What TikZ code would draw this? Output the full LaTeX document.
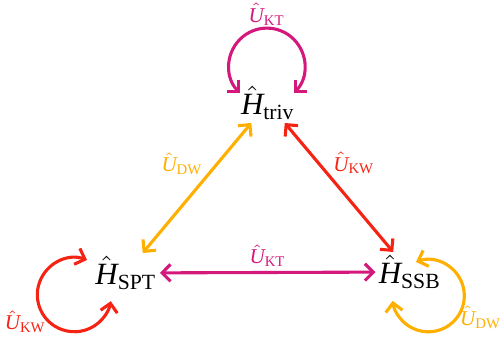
\documentclass[tikz,border=0pt]{standalone}
\usepackage{amsmath}
\usepackage{fontspec}
\setmainfont{Liberation Serif}
\definecolor{ktmag}{RGB}{212, 25, 125}
\definecolor{kwred}{RGB}{245, 35, 20}
\definecolor{dworange}{RGB}{255, 175, 0}
\usetikzlibrary{arrows.meta}
\newcommand{\hamop}[1]{$\hat{\text{\itshape H}}_{\text{#1}}$}
\newcommand{\unop}[1]{$\hat{\text{\itshape U}}_{\text{#1}}$}

\begin{document}
\begin{tikzpicture}[
        x=0.0125cm, y=0.0125cm,
        ham/.style={inner sep=1pt, font=\fontsize{11}{13}\selectfont},
        lbl/.style={inner sep=0.5pt, font=\fontsize{7.5}{9}\selectfont},
        link/.style={{Straight Barb[length=3pt, width=6pt]}-{Straight Barb[length=3pt, width=6pt]}, line width=1.1pt}
    ]
        \useasboundingbox (0,0) rectangle (503,348);

        \node[ham] (triv) at (268,245) {\hamop{triv}};
        \node[ham] (spt) at (126,75) {\hamop{SPT}};
        \node[ham] (ssb) at (410,76) {\hamop{SSB}};

        % edges of the triangle
        \draw[link, dworange] (triv) -- node[lbl, pos=0.42, above left] {\unop{DW}} (spt);
        \draw[link, kwred] (triv) -- node[lbl, pos=0.42, above right] {\unop{KW}} (ssb);
        \draw[link, ktmag] (spt) -- node[lbl, above=1pt] {\unop{KT}} (ssb);

        % self loops
        \draw[link, ktmag] ([shift={(-28,10)}]triv.center) arc[start angle=225, end angle=-45, radius=38]
            node[lbl, pos=0.5, above] {\unop{KT}};
        \draw[link, kwred] ([shift={(-39,13)}]spt.center) arc[start angle=70, end angle=350, radius=37]
            node[lbl, pos=0.56, left] {\unop{KW}};
        \draw[link, dworange] ([shift={(6,10)}]ssb.center) arc[start angle=110, end angle=-172, radius=36]
            node[lbl, pos=0.52, right] {\unop{DW}};
    \end{tikzpicture}
\end{document}
